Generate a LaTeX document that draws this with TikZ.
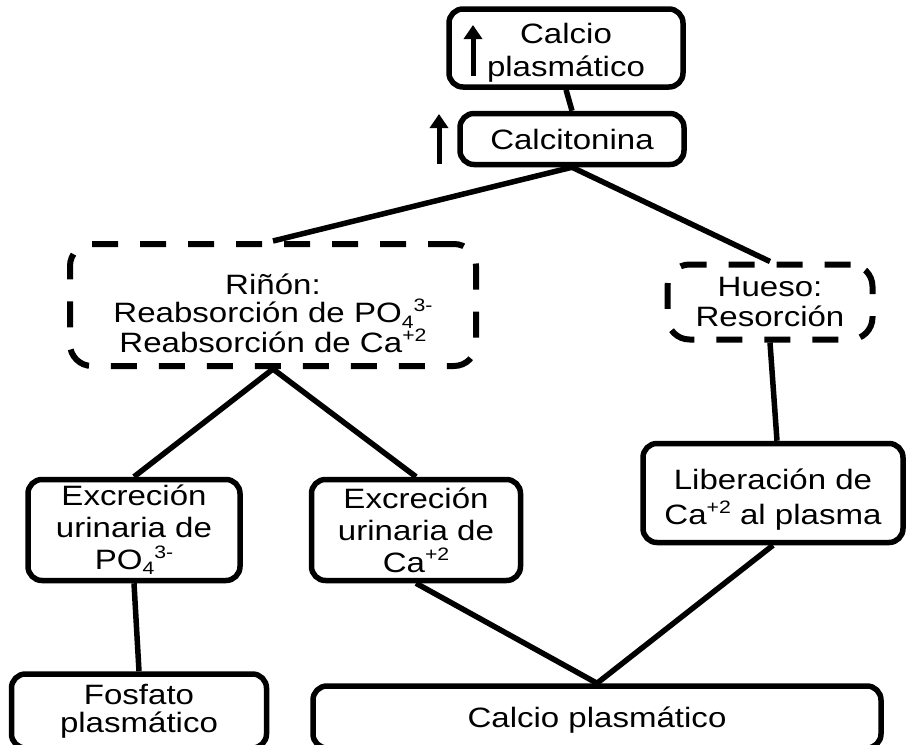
\documentclass[tikz,border=0pt]{standalone}
\usepackage{fontspec}
\setmainfont[FakeStretch=1.18]{Liberation Sans}
\usetikzlibrary{arrows.meta}
% raised / lowered small figures for ion charges and indices
\newcommand\chg[1]{\raisebox{0.4em}{\fontsize{18}{18}\selectfont #1}}
\newcommand\idx[1]{\raisebox{-0.18em}{\fontsize{18}{18}\selectfont #1}}
% invisible strut that pushes a text block down inside its box
\newcommand\pushdown[1]{\rule{0pt}{#1}}
\begin{document}
\begin{tikzpicture}[x=1pt,y=-1pt,
  every node/.style={font=\fontsize{28}{30}\selectfont, align=center, inner sep=0pt},
  box/.style={draw, line width=5.5pt, rounded corners=14pt},
  dbox/.style={draw, line width=6pt, rounded corners=22pt, dash pattern=on 26pt off 22pt},
  link/.style={line width=5.5pt},
  up/.style={line width=5pt, -{Triangle[width=18pt,length=14pt]}}]
\useasboundingbox (0,0) rectangle (906,745);
\clip (0,0) rectangle (906,745);

% boxes
\node[box, minimum width=234pt, minimum height=78pt, font=\fontsize{28}{33}\selectfont] (top) at (566,48)
  {\pushdown{30pt}Calcio\\plasmático};
\node[box, minimum width=224pt, minimum height=51pt] (cal) at (572,139) {Calcitonina};
\node[dbox, minimum width=406pt, minimum height=122pt, font=\fontsize{28}{28}\selectfont] (rin) at (273,305)
  {\pushdown{38pt}Riñón:\\Reabsorción de PO\idx{4}\chg{3-}\\Reabsorción de Ca\chg{+2}};
\node[dbox, minimum width=205pt, minimum height=75pt] (hue) at (770,302) {Hueso:\\Resorción};
\node[box, minimum width=212pt, minimum height=101pt, font=\fontsize{28}{32}\selectfont] (ep) at (134,530)
  {Excreción\\urinaria de\\PO\idx{4}\chg{3-}};
\node[box, minimum width=209pt, minimum height=101pt, font=\fontsize{28}{32}\selectfont] (ec) at (416,530)
  {Excreción\\urinaria de\\Ca\chg{+2}};
\node[box, minimum width=260pt, minimum height=99pt, font=\fontsize{28}{35}\selectfont] (lib) at (773,493)
  {\pushdown{34pt}Liberación de\\Ca\chg{+2} al plasma};
\node[box, minimum width=255pt, minimum height=74pt, font=\fontsize{28}{28}\selectfont] (fos) at (139,711)
  {Fosfato\\plasmático};
\node[box, minimum width=568pt, minimum height=62pt] (cp) at (597,717) {\pushdown{26pt}Calcio plasmático};

% rise markers
\coordinate (a1s) at (473,76);
\coordinate (a1e) at (473,25);
\coordinate (a2s) at (439,164);
\coordinate (a2e) at (439,114);
\draw[up] (a1s) -- (a1e);
\draw[up] (a2s) -- (a2e);

% connectors
\draw[link] (top.south) -- (cal.north);
\draw[link] (cal.south) -- (rin.north);
\draw[link] (cal.south) -- (hue.north);
\draw[link] (rin.south) -- (ep.north);
\draw[link] (rin.south) -- (ec.north);
\draw[link] (hue.south) -- ([xshift=4pt]lib.north);
\draw[link] (ep.south) -- (fos.north);
\draw[link] (ec.south) -- (cp.north);
\draw[link] (lib.south) -- (cp.north);
\end{tikzpicture}
\end{document}
